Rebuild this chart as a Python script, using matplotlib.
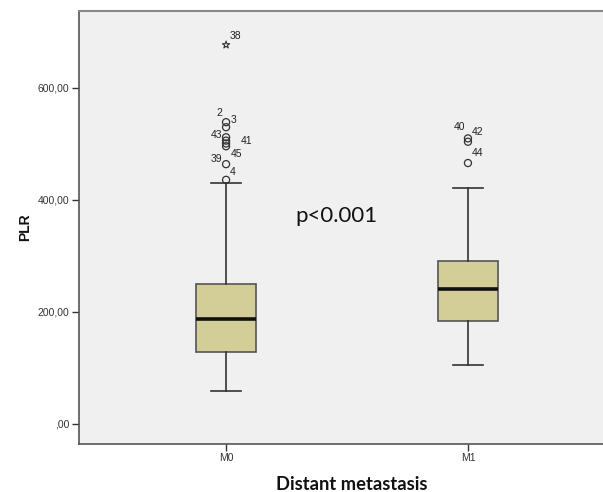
import matplotlib
matplotlib.use("Agg")
import matplotlib.pyplot as plt

# ---- data ----
categories = ["M0", "M1"]
q1 = [129, 184]
medians = [188, 241.5]
q3 = [250, 291]
whisker_low = [59.5, 105]
whisker_high = [430.5, 421]

# outliers (circles) per group, with case labels ('' = unlabeled)
m0_out_vals = [539, 530, 512, 506, 501, 496, 464, 436]
m0_out_labels = ["2", "3", "43", "41", "", "45", "39", "4"]
m0_extreme_vals = [677]
m0_extreme_labels = ["38"]
m1_out_vals = [510, 504, 466]
m1_out_labels = ["40", "42", "44"]

yticks = [0, 200, 400, 600]
ytick_labels = [",00", "200,00", "400,00", "600,00"]

# ---- style ----
W, H = 603, 492
fig = plt.figure(figsize=(W / 100, H / 100), dpi=100)
left, right, top, bottom = 79, 615, 11, 443.7
ax = fig.add_axes([left / W, (H - bottom) / H, (right - left) / W, (bottom - top) / H])
ax.set_facecolor("#f0f0f0")

positions = [1, 2]
stats = []
for i in range(2):
    stats.append(dict(med=medians[i], q1=q1[i], q3=q3[i],
                      whislo=whisker_low[i], whishi=whisker_high[i],
                      fliers=[], label=categories[i]))
ax.bxp(stats, positions=positions, widths=0.25, patch_artist=True,
       showfliers=False, capwidths=0.125,
       boxprops=dict(facecolor="#d3ce98", edgecolor="#555555", linewidth=1.2),
       medianprops=dict(color="#111111", linewidth=2.6),
       whiskerprops=dict(color="#333333", linewidth=1.2),
       capprops=dict(color="#333333", linewidth=1.2))

lab_font = dict(family="Liberation Sans", fontsize=7.5, color="#222222")

def draw_outliers(x, vals, labels, offsets):
    ax.scatter([x] * len(vals), vals, s=26, facecolors="none",
               edgecolors="#333333", linewidths=0.9, zorder=3)
    for v, lab, off in zip(vals, labels, offsets):
        if lab:
            ha = "right" if off[0] < 0 else "left"
            ax.annotate(lab, (x, v), xytext=off, textcoords="offset pixels",
                        ha=ha, va="center", **lab_font)

m0_offsets = [(-4, 9), (5, 7), (-4, 2), (15, 0), (0, 0), (5, -8), (-4, 5), (4, 8)]
draw_outliers(1, m0_out_vals, m0_out_labels, m0_offsets)
ax.scatter([1] * len(m0_extreme_vals), m0_extreme_vals, marker="*", s=30,
           facecolors="none", edgecolors="#333333", linewidths=0.8, zorder=3)
for v, lab in zip(m0_extreme_vals, m0_extreme_labels):
    ax.annotate(lab, (1, v), xytext=(4, 9), textcoords="offset pixels",
                ha="left", va="center", **lab_font)
m1_offsets = [(-3, 11), (4, 10), (4, 10)]
draw_outliers(2, m1_out_vals, m1_out_labels, m1_offsets)

ax.set_xlim(0.392, 2.608)
ax.set_ylim(-35.2, 737.5)
ax.set_yticks(yticks)
ax.set_yticklabels(ytick_labels, fontfamily="Liberation Sans", fontsize=7.5, color="#333333")
ax.set_xticks(positions)
ax.set_xticklabels(categories, fontfamily="Liberation Sans", fontsize=7.5, color="#333333")
ax.tick_params(axis="both", direction="out", length=5, width=1, color="#333333", pad=2)

for s in ["left", "bottom"]:
    ax.spines[s].set_color("#555555")
    ax.spines[s].set_linewidth(1.2)
for s in ["top", "right"]:
    ax.spines[s].set_color("#888888")
    ax.spines[s].set_linewidth(1.5)

fig.text(25 / W, 1 - 227 / H, "PLR", rotation=90, ha="center", va="center",
         fontfamily="Liberation Sans", fontweight="bold", fontsize=10, color="#111111")
fig.text(352 / W, 1 - 485 / H, "Distant metastasis", ha="center", va="center",
         fontfamily="Lato", fontweight="bold", fontsize=13.2, color="#111111")
fig.text(336 / W, 1 - 216 / H, "p<0.001", ha="center", va="center",
         fontfamily="Lato", fontsize=16, color="#111111")

fig.savefig("out.png", dpi=100, facecolor="white")
